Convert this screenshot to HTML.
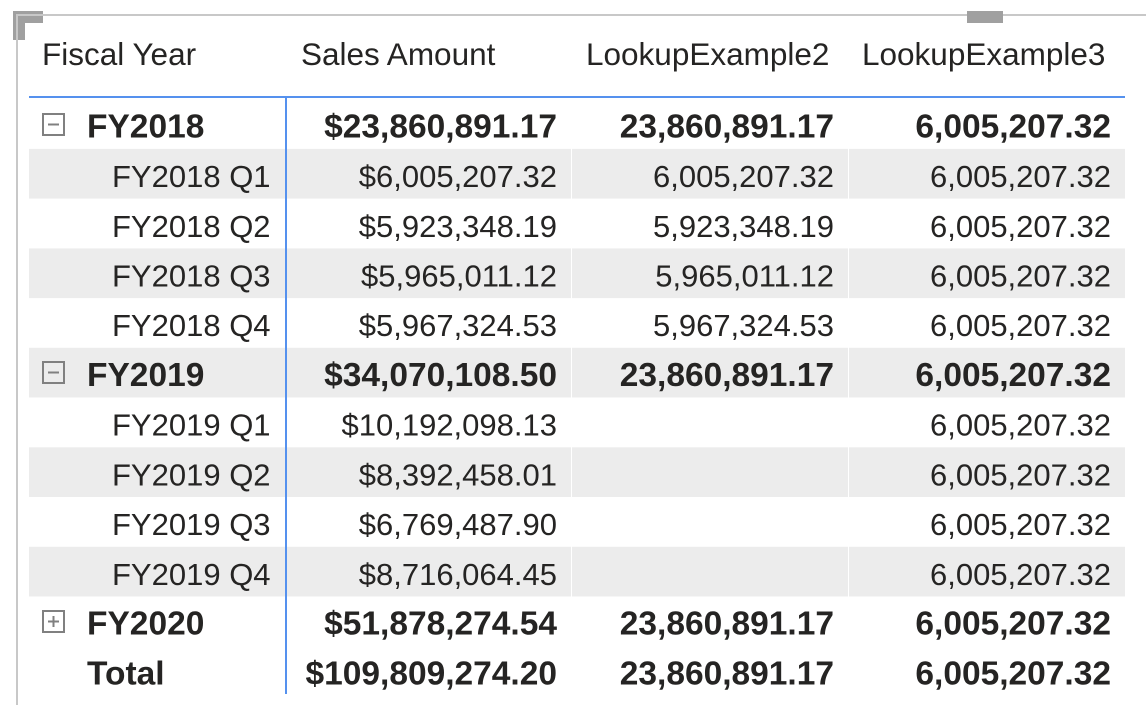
<!DOCTYPE html>
<html><head><meta charset="utf-8"><style>
html,body{margin:0;padding:0;background:#fff;width:1146px;height:705px;overflow:hidden}
svg{display:block}
text{font-family:"Liberation Sans",Arial,sans-serif;fill:#252423}
.h{font-size:31.5px}
.r{font-size:31px}
.b{font-size:33.5px;font-weight:bold}
</style></head><body>
<svg width="1146" height="705" viewBox="0 0 1146 705" xmlns="http://www.w3.org/2000/svg">
<!-- frame -->
<rect x="13" y="11" width="30" height="12" fill="#a0a0a0"/>
<rect x="13" y="11" width="12" height="29" fill="#a0a0a0"/>
<rect x="16" y="14" width="1130" height="2" fill="#c8c8c8"/>
<rect x="16" y="14" width="2" height="691" fill="#c8c8c8"/>
<rect x="967" y="11" width="36" height="12" fill="#a0a0a0"/>

<!-- banded rows -->
<rect x="29" y="148.9" width="1096" height="49.7" fill="#ececec"/>
<rect x="29" y="248.4" width="1096" height="49.7" fill="#ececec"/>
<rect x="29" y="347.8" width="1096" height="49.7" fill="#ececec"/>
<rect x="29" y="447.3" width="1096" height="49.7" fill="#ececec"/>
<rect x="29" y="546.8" width="1096" height="49.7" fill="#ececec"/>
<rect x="571" y="99" width="1" height="597" fill="#ffffff"/>
<rect x="848" y="99" width="1" height="597" fill="#ffffff"/>

<!-- header lines -->
<rect x="29" y="96" width="1096" height="2" fill="#5591ee"/>
<rect x="285" y="98" width="2" height="596" fill="#5591ee"/>

<!-- header -->
<text class="h" x="42" y="65">Fiscal Year</text>
<text class="h" x="301" y="65">Sales Amount</text>
<text class="h" x="586" y="65">LookupExample2</text>
<text class="h" x="862" y="65">LookupExample3</text>

<!-- expand icons -->
<g fill="none" stroke="#808080" stroke-width="2">
<rect x="43" y="114" width="21" height="21"/>
<line x1="48" y1="124.5" x2="59" y2="124.5"/>
<rect x="43" y="362" width="21" height="21"/>
<line x1="48" y1="372.5" x2="59" y2="372.5"/>
<rect x="43" y="611" width="21" height="21"/>
<line x1="48" y1="621.5" x2="59" y2="621.5"/>
<line x1="53.5" y1="616" x2="53.5" y2="627"/>
</g>

<!-- row 0 FY2018 -->
<text class="b" x="87" y="137.3">FY2018</text>
<text class="b" x="557" y="137.3" text-anchor="end">$23,860,891.17</text>
<text class="b" x="834" y="137.3" text-anchor="end">23,860,891.17</text>
<text class="b" x="1111" y="137.3" text-anchor="end">6,005,207.32</text>

<text class="r" x="112" y="187">FY2018 Q1</text>
<text class="r" x="557" y="187" text-anchor="end">$6,005,207.32</text>
<text class="r" x="834" y="187" text-anchor="end">6,005,207.32</text>
<text class="r" x="1111" y="187" text-anchor="end">6,005,207.32</text>

<text class="r" x="112" y="236.8">FY2018 Q2</text>
<text class="r" x="557" y="236.8" text-anchor="end">$5,923,348.19</text>
<text class="r" x="834" y="236.8" text-anchor="end">5,923,348.19</text>
<text class="r" x="1111" y="236.8" text-anchor="end">6,005,207.32</text>

<text class="r" x="112" y="286.5">FY2018 Q3</text>
<text class="r" x="557" y="286.5" text-anchor="end">$5,965,011.12</text>
<text class="r" x="834" y="286.5" text-anchor="end">5,965,011.12</text>
<text class="r" x="1111" y="286.5" text-anchor="end">6,005,207.32</text>

<text class="r" x="112" y="336.2">FY2018 Q4</text>
<text class="r" x="557" y="336.2" text-anchor="end">$5,967,324.53</text>
<text class="r" x="834" y="336.2" text-anchor="end">5,967,324.53</text>
<text class="r" x="1111" y="336.2" text-anchor="end">6,005,207.32</text>

<text class="b" x="87" y="386">FY2019</text>
<text class="b" x="557" y="386" text-anchor="end">$34,070,108.50</text>
<text class="b" x="834" y="386" text-anchor="end">23,860,891.17</text>
<text class="b" x="1111" y="386" text-anchor="end">6,005,207.32</text>

<text class="r" x="112" y="435.7">FY2019 Q1</text>
<text class="r" x="557" y="435.7" text-anchor="end">$10,192,098.13</text>
<text class="r" x="1111" y="435.7" text-anchor="end">6,005,207.32</text>

<text class="r" x="112" y="485.4">FY2019 Q2</text>
<text class="r" x="557" y="485.4" text-anchor="end">$8,392,458.01</text>
<text class="r" x="1111" y="485.4" text-anchor="end">6,005,207.32</text>

<text class="r" x="112" y="535.1">FY2019 Q3</text>
<text class="r" x="557" y="535.1" text-anchor="end">$6,769,487.90</text>
<text class="r" x="1111" y="535.1" text-anchor="end">6,005,207.32</text>

<text class="r" x="112" y="584.9">FY2019 Q4</text>
<text class="r" x="557" y="584.9" text-anchor="end">$8,716,064.45</text>
<text class="r" x="1111" y="584.9" text-anchor="end">6,005,207.32</text>

<text class="b" x="87" y="634.6">FY2020</text>
<text class="b" x="557" y="634.6" text-anchor="end">$51,878,274.54</text>
<text class="b" x="834" y="634.6" text-anchor="end">23,860,891.17</text>
<text class="b" x="1111" y="634.6" text-anchor="end">6,005,207.32</text>

<text class="b" x="87" y="684.3">Total</text>
<text class="b" x="557" y="684.3" text-anchor="end">$109,809,274.20</text>
<text class="b" x="834" y="684.3" text-anchor="end">23,860,891.17</text>
<text class="b" x="1111" y="684.3" text-anchor="end">6,005,207.32</text>
</svg>
</body></html>
